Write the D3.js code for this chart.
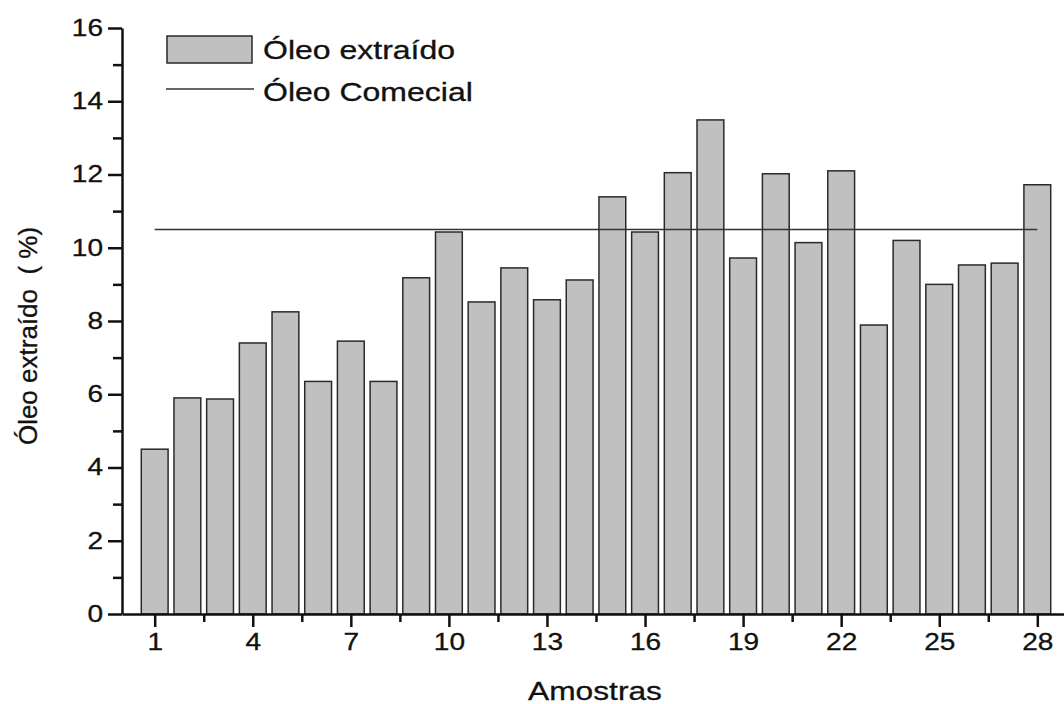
<!DOCTYPE html>
<html>
<head>
<meta charset="utf-8">
<script src="https://cdn.jsdelivr.net/npm/d3@7"></script>
<style>
  body { margin: 0; background: #fff; }
  svg { display: block; }
  text { font-family: "Liberation Sans", Arial, sans-serif; fill: #111; stroke: #111; stroke-width: 0.3px; }
</style>
</head>
<body>
<div id="chart"></div>
<script>
// sample numbers and extracted oil (%)
var amostras = d3.range(1, 29);
var oleoExtraido = [4.5, 5.9, 5.87, 7.4, 8.25, 6.35, 7.45, 6.35, 9.18, 10.43,
    8.52, 9.45, 8.58, 9.12, 11.39, 10.43, 12.05, 13.49, 9.72, 12.02,
    10.14, 12.1, 7.89, 10.2, 9.0, 9.53, 9.58, 11.72];
var oleoComercial = 10.5;
var xTicks = [1, 4, 7, 10, 13, 16, 19, 22, 25, 28];
var yTicks = [0, 2, 4, 6, 8, 10, 12, 14, 16];
var legendLabels = ["Óleo extraído", "Óleo Comecial"];

var W = 1064, H = 704;
var stretch = 1.22; // text in the picture is drawn wide

var svg = d3.select("#chart").append("svg")
    .attr("width", W)
    .attr("height", H);

var x = d3.scaleLinear().domain([0, 29]).range([122, 1070]);
var y = d3.scaleLinear().domain([0, 16]).range([614, 28]);
var barW = (x(1) - x(0)) * 0.82;

// bars
svg.append("g").selectAll("rect")
    .data(oleoExtraido)
    .enter().append("rect")
    .attr("x", function(d, i) { return x(amostras[i]) - barW / 2; })
    .attr("y", function(d) { return y(d); })
    .attr("width", barW)
    .attr("height", function(d) { return y(0) - y(d); })
    .attr("fill", "#c0c0c0")
    .attr("stroke", "#2a2a2a")
    .attr("stroke-width", 1.5);

// commercial oil reference line
svg.append("line")
    .attr("x1", x(amostras[0]))
    .attr("x2", x(amostras[amostras.length - 1]))
    .attr("y1", y(oleoComercial))
    .attr("y2", y(oleoComercial))
    .attr("stroke", "#333")
    .attr("stroke-width", 1.5);

// minor ticks
var xMinor = xTicks.slice(0, -1).map(function(t) { return t + 1.5; });
var yMinor = yTicks.slice(0, -1).map(function(t) { return t + 1; });

svg.append("g")
    .attr("transform", "translate(0," + y(0) + ")")
    .call(d3.axisBottom(x).tickValues(xMinor).tickSize(8).tickFormat(""))
    .call(function(g) { g.select(".domain").remove(); });

svg.append("g")
    .attr("transform", "translate(" + x(0) + ",0)")
    .call(d3.axisLeft(y).tickValues(yMinor).tickSize(9).tickFormat(""))
    .call(function(g) { g.select(".domain").remove(); });

// main axes
var xAxis = svg.append("g")
    .attr("transform", "translate(0," + y(0) + ")")
    .call(d3.axisBottom(x).tickValues(xTicks).tickSize(13).tickSizeOuter(0).tickPadding(7));

var yAxis = svg.append("g")
    .attr("transform", "translate(" + x(0) + ",0)")
    .call(d3.axisLeft(y).tickValues(yTicks).tickSize(14).tickSizeOuter(0).tickPadding(5));

svg.selectAll(".domain, .tick line")
    .attr("stroke", "#111")
    .attr("stroke-width", 2.5);

xAxis.selectAll("text")
    .attr("font-size", 23)
    .attr("transform", "scale(" + stretch + ",1)");

yAxis.selectAll("text")
    .attr("font-size", 23)
    .attr("x", -19 / stretch)
    .attr("transform", "scale(" + stretch + ",1)");

// axis titles
svg.append("text")
    .attr("transform", "translate(595,700) scale(" + stretch + ",1)")
    .attr("text-anchor", "middle")
    .attr("font-size", 26)
    .text("Amostras");

svg.append("text")
    .attr("transform", "translate(37,336) rotate(-90)")
    .attr("text-anchor", "middle")
    .attr("font-size", 26)
    .text("Óleo extraído\u00a0\u00a0(\u00a0%)");

// legend
var legend = svg.append("g");
legend.append("rect")
    .attr("x", 167).attr("y", 36)
    .attr("width", 85).attr("height", 27)
    .attr("fill", "#c0c0c0")
    .attr("stroke", "#2a2a2a")
    .attr("stroke-width", 1.5);
legend.append("line")
    .attr("x1", 166).attr("x2", 254)
    .attr("y1", 89).attr("y2", 89)
    .attr("stroke", "#333")
    .attr("stroke-width", 1.5);
legend.selectAll("text.leg")
    .data(legendLabels)
    .enter().append("text")
    .attr("class", "leg")
    .attr("transform", function(d, i) {
        return "translate(263," + (59 + i * 42) + ") scale(1.28,1)";
    })
    .attr("font-size", 25)
    .text(function(d) { return d; });
</script>
</body>
</html>
